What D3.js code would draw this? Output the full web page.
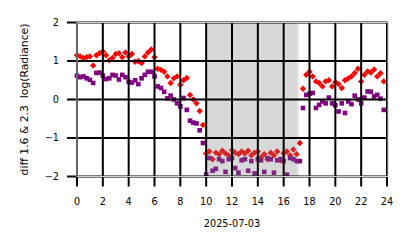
<!DOCTYPE html>
<html>
<head>
<meta charset="utf-8">
<script src="https://cdn.jsdelivr.net/npm/d3@7"></script>
<style>
  body { margin: 0; background: #fff; }
  svg { display: block; font-family: "DejaVu Sans", sans-serif; }
</style>
</head>
<body>
<div id="chart"></div>
<script>
// hours of the day (15 min sampling)
var hours = [
  0, 0.25, 0.5, 0.75, 1, 1.25, 1.5, 1.75, 2, 2.25, 2.5, 2.75,
  3, 3.25, 3.5, 3.75, 4, 4.25, 4.5, 4.75, 5, 5.25, 5.5, 5.75,
  6, 6.25, 6.5, 6.75, 7, 7.25, 7.5, 7.75, 8, 8.25, 8.5, 8.75,
  9, 9.25, 9.5, 9.75, 10, 10.25, 10.5, 10.75, 11, 11.25, 11.5, 11.75,
  12, 12.25, 12.5, 12.75, 13, 13.25, 13.5, 13.75, 14, 14.25, 14.5, 14.75,
  15, 15.25, 15.5, 15.75, 16, 16.25, 16.5, 16.75, 17, 17.25, 17.5, 17.75,
  18, 18.25, 18.5, 18.75, 19, 19.25, 19.5, 19.75, 20, 20.25, 20.5, 20.75,
  21, 21.25, 21.5, 21.75, 22, 22.25, 22.5, 22.75, 23, 23.25, 23.5, 23.75
]
var diff16 = [
  1.15, 1.12, 1.08, 1.10, 1.12, 0.88, 1.15, 1.20, 1.25, 1.15, 1.02, 1.08,
  1.18, 1.20, 1.10, 1.22, 1.12, 1.18, 0.98, 1.00, 0.95, 1.12, 1.22, 1.30,
  1.10, 0.80, 0.77, 0.72, 0.60, 0.43, 0.55, 0.60, 0.38, 0.50, 0.56, 0.12,
  0.00, -0.10, -0.30, -0.66, -1.40, -1.35, -1.55, -1.38, -1.42, -1.33, -1.40, -1.45,
  -1.32, -1.38, -1.42, -1.35, -1.40, -1.33, -1.45, -1.38, -1.35, -1.50, -1.42, -1.55,
  -1.38, -1.45, -1.35, -1.58, -1.40, -1.35, -1.45, -1.30, -1.42, -1.13, 0.28, 0.64,
  0.72, 0.60, 0.47, 0.43, 0.34, 0.47, 0.50, 0.34, 0.45, 0.40, 0.30, 0.50,
  0.55, 0.60, 0.69, 0.80, 0.47, 0.64, 0.73, 0.70, 0.78, 0.60, 0.68, 0.47
]
var diff23 = [
  0.62, 0.58, 0.60, 0.55, 0.51, 0.43, 0.69, 0.70, 0.62, 0.53, 0.55, 0.64,
  0.62, 0.52, 0.64, 0.58, 0.46, 0.44, 0.50, 0.40, 0.55, 0.64, 0.72, 0.72,
  0.60, 0.34, 0.30, 0.20, 0.03, 0.10, 0.00, -0.10, -0.18, 0.04, -0.27, -0.55,
  -0.60, -0.62, -0.80, -1.13, -1.95, -1.52, -1.85, -1.80, -1.55, -1.60, -1.88, -1.55,
  -1.52, -1.78, -1.90, -1.58, -1.55, -1.85, -1.60, -1.92, -1.55, -1.58, -1.88, -1.52,
  -1.55, -1.90, -1.58, -1.55, -1.60, -1.95, -1.52, -1.55, -1.60, -1.60, -0.22, 0.12,
  0.15, 0.17, -0.22, -0.14, -0.05, -0.10, 0.05, -0.10, -0.15, -0.31, -0.10, -0.35,
  -0.05, -0.12, 0.10, 0.00, -0.10, 0.05, 0.21, 0.20, 0.08, 0.12, 0.02, -0.27
]
var xTicks = [0, 2, 4, 6, 8, 10, 12, 14, 16, 18, 20, 22, 24]
var yTicks = [-2, -1, 0, 1, 2]
var nightSpan = [10.0, 17.05]
var nightSpan2 = [10.0, 17.2]
var dateLabel = "2025-07-03"
var yLabel = "diff 1.6 & 2.3  log(Radiance)"

var W = 414, H = 248
var x = d3.scaleLinear().domain([0, 24]).range([77, 387])
var y = d3.scaleLinear().domain([-2, 2]).range([176.5, 22.5])

var svg = d3.select("#chart").append("svg")
    .attr("width", W)
    .attr("height", H)

// red diamonds
svg.append("g")
    .selectAll("path")
    .data(hours.map((h, i) => [h, diff16[i]]))
    .join("path")
    .attr("d", "M0,-3.2L3.2,0L0,3.2L-3.2,0Z")
    .attr("transform", d => `translate(${x(d[0])},${y(d[1])})`)
    .attr("fill", "#ff0000")

// purple squares
svg.append("g")
    .selectAll("rect")
    .data(hours.map((h, i) => [h, diff23[i]]))
    .join("rect")
    .attr("x", d => x(d[0]) - 2.3)
    .attr("y", d => y(d[1]) - 2.3)
    .attr("width", 4.6)
    .attr("height", 4.6)
    .attr("fill", "#800080")

// shaded night spans (drawn over points)
svg.append("g")
    .selectAll("rect")
    .data([nightSpan, nightSpan2])
    .join("rect")
    .attr("x", d => x(d[0]))
    .attr("y", y(2))
    .attr("width", d => x(d[1]) - x(d[0]))
    .attr("height", y(-2) - y(2))
    .attr("fill", "#808080")
    .attr("fill-opacity", 0.165)

// grid
var grid = svg.append("g").attr("stroke", "#000").attr("stroke-width", 2)
grid.selectAll(".gx")
    .data(xTicks)
    .join("line")
    .attr("x1", d => x(d)).attr("x2", d => x(d))
    .attr("y1", y(2)).attr("y2", y(-2) + 10)
grid.selectAll(".gy")
    .data(yTicks)
    .join("line")
    .attr("class", "gy")
    .attr("y1", d => y(d)).attr("y2", d => y(d))
    .attr("x1", x(0) - 10).attr("x2", x(24) + 1)

// frame
svg.append("rect")
    .attr("x", x(0)).attr("y", y(2))
    .attr("width", x(24) - x(0) + 1)
    .attr("height", y(-2) - y(2))
    .attr("fill", "none")
    .attr("stroke", "#cccccc")
    .attr("stroke-width", 1)

// tick labels
svg.append("g")
    .attr("font-size", 9.7)
    .attr("fill", "#000")
    .attr("text-anchor", "middle")
    .selectAll("text")
    .data(xTicks)
    .join("text")
    .attr("x", d => x(d))
    .attr("y", 205)
    .text(d => d)

svg.append("g")
    .attr("font-size", 9.7)
    .attr("fill", "#000")
    .attr("text-anchor", "end")
    .selectAll("text")
    .data(yTicks)
    .join("text")
    .attr("x", 59)
    .attr("y", d => y(d))
    .attr("dy", "0.35em")
    .text(d => d3.format("d")(d).replace("-", "\u2212"))

svg.append("text")
    .attr("x", x(12))
    .attr("y", 227)
    .attr("text-anchor", "middle")
    .attr("font-size", 9.7)
    .text(dateLabel)

svg.append("text")
    .attr("transform", `translate(28,${(y(2) + y(-2)) / 2}) rotate(-90)`)
    .attr("text-anchor", "middle")
    .attr("font-size", 10.8)
    .style("white-space", "pre")
    .text(yLabel)
</script>
</body>
</html>
